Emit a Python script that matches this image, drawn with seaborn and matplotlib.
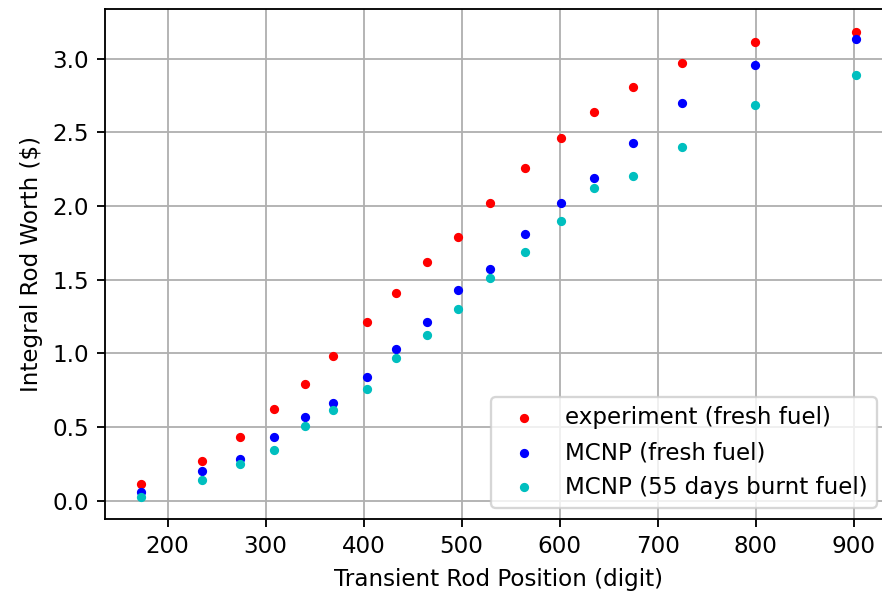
import matplotlib
matplotlib.use("Agg")
import matplotlib.pyplot as plt
import seaborn as sns
import pandas as pd

positions = [173, 235, 274, 309, 340, 369, 404, 433, 465, 496, 529, 565, 601, 635, 675, 725, 799, 902]
experiment_fresh = [0.11, 0.27, 0.43, 0.62, 0.79, 0.98, 1.21, 1.41, 1.62, 1.79, 2.02, 2.255, 2.46, 2.635, 2.81, 2.97, 3.11, 3.18]
mcnp_fresh = [0.06, 0.20, 0.285, 0.43, 0.57, 0.665, 0.84, 1.03, 1.21, 1.43, 1.57, 1.81, 2.02, 2.19, 2.43, 2.70, 2.955, 3.13]
mcnp_burnt = [0.025, 0.14, 0.25, 0.345, 0.505, 0.615, 0.76, 0.965, 1.125, 1.30, 1.51, 1.685, 1.90, 2.125, 2.205, 2.40, 2.685, 2.89]

labels = ["experiment (fresh fuel)", "MCNP (fresh fuel)", "MCNP (55 days burnt fuel)"]
colors = ["r", "b", "c"]

DPI = 166
fig = plt.figure(figsize=(882 / DPI, 594 / DPI), dpi=DPI)
ax = fig.add_axes([105 / 882, 74.7 / 594, 786.5 / 882, 510 / 594])

for vals, lab, col in zip([experiment_fresh, mcnp_fresh, mcnp_burnt], labels, colors):
    df = pd.DataFrame({"x": positions, "y": vals})
    sns.scatterplot(data=df, x="x", y="y", ax=ax, color=col, marker="o",
                    s=9, linewidth=1, edgecolor=col, label=lab, zorder=3)

ax.grid(True, color="#b0b0b0", linewidth=0.8)
ax.set_axisbelow(True)
ax.set_xlabel("Transient Rod Position (digit)")
ax.set_ylabel("Integral Rod Worth ($)")
ax.set_xticks([200, 300, 400, 500, 600, 700, 800, 900])
ax.set_yticks([0.0, 0.5, 1.0, 1.5, 2.0, 2.5, 3.0])
ax.set_xlim(136.2, 938.6)
ax.set_ylim(-0.127, 3.335)
ax.legend(loc="lower right", bbox_to_anchor=(1 - 3 / 786.5, 0))

fig.savefig("out.png", dpi=DPI)
